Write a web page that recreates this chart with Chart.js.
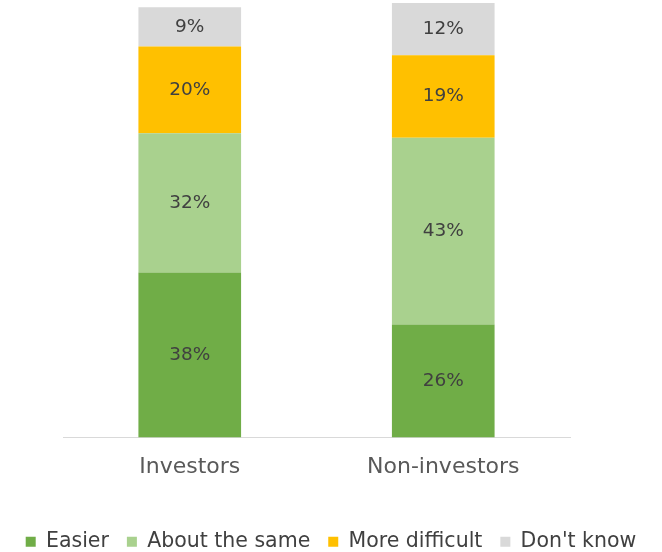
<!DOCTYPE html>
<html>
<head>
<meta charset="utf-8">
<script src="https://cdn.jsdelivr.net/npm/chart.js@4/dist/chart.umd.min.js"></script>
<style>
  html, body { margin: 0; padding: 0; background: #ffffff; }
  #wrap { width: 662px; height: 552px; }
</style>
</head>
<body>
<div id="wrap"><canvas id="survey"></canvas></div>
<script>
// survey answers, % of respondents
const groups = ['Investors', 'Non-investors'];
const easier = [38, 26];
const aboutSame = [32, 43];
const moreDifficult = [20, 19];
const dontKnow = [9, 12];

const seriesNames = ['Easier', 'About the same', 'More difficult', "Don't know"];
const seriesColors = ['#70AD47', '#A9D18E', '#FFC000', '#D9D9D9'];

const FONT = "'DejaVu Sans', sans-serif";

// writes the value in the middle of each bar segment
const segmentLabels = {
    id: 'segmentLabels',
    afterDatasetsDraw(chart) {
        const ctx = chart.ctx;
        ctx.save();
        ctx.font = '18.5px ' + FONT;
        ctx.fillStyle = '#404040';
        ctx.textAlign = 'center';
        ctx.textBaseline = 'middle';
        chart.data.datasets.forEach(function(ds, i) {
            const meta = chart.getDatasetMeta(i);
            meta.data.forEach(function(bar, j) {
                const p = bar.getCenterPoint();
                ctx.fillText(ds.data[j] + '%', p.x, p.y);
            });
        });
        ctx.restore();
    }
};

const values = [easier, aboutSame, moreDifficult, dontKnow];
const datasets = values.map(function(v, i) {
    return {
        label: seriesNames[i],
        data: v,
        backgroundColor: seriesColors[i],
        borderWidth: 0,
        categoryPercentage: 1,
        barPercentage: 0.405
    };
});

new Chart(document.getElementById('survey'), {
    type: 'bar',
    data: { labels: groups, datasets: datasets },
    options: {
        responsive: true,
        maintainAspectRatio: false,
        animation: false,
        layout: { padding: { top: 3, left: 0, right: 0, bottom: -10 } },
        scales: {
            x: {
                stacked: true,
                grid: { display: true, drawOnChartArea: false, drawTicks: false },
                border: { display: true, color: '#D9D9D9', width: 1 },
                ticks: { color: '#595959', font: { family: FONT, size: 22 }, padding: 17 },
                afterFit: function(scale) { scale.height = 76; }
            },
            y: {
                stacked: true,
                min: 0,
                max: 100,
                grid: { display: false },
                border: { display: false },
                ticks: { display: false },
                afterFit: function(scale) { scale.width = 63; }
            },
            yRight: {
                position: 'right',
                min: 0,
                max: 100,
                grid: { display: false },
                border: { display: false },
                ticks: { display: false },
                afterFit: function(scale) { scale.width = 92; }
            }
        },
        plugins: {
            legend: {
                position: 'bottom',
                labels: {
                    boxWidth: 10,
                    boxHeight: 10,
                    padding: 18,
                    color: '#404040',
                    font: { family: FONT, size: 20.5, lineHeight: 1 }
                }
            },
            tooltip: { enabled: false }
        }
    },
    plugins: [segmentLabels]
});
</script>
</body>
</html>
